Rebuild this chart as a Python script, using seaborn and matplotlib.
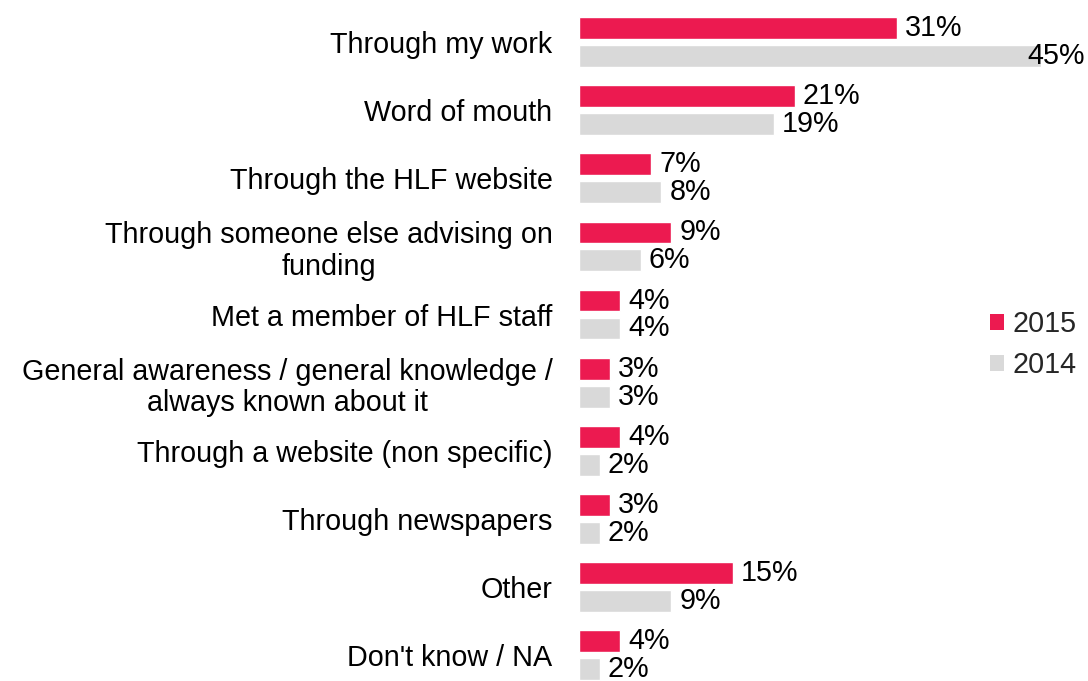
import matplotlib
matplotlib.use("Agg")
import matplotlib.pyplot as plt
import seaborn as sns
import pandas as pd
from matplotlib.patches import Patch

sns.set_style("white")
plt.rcParams["font.family"] = ["Liberation Sans", "DejaVu Sans"]

categories = [
    "Through my work",
    "Word of mouth",
    "Through the HLF website",
    "Through someone else advising on\nfunding",
    "Met a member of HLF staff",
    "General awareness / general knowledge /\nalways known about it",
    "Through a website (non specific)",
    "Through newspapers",
    "Other",
    "Don't know / NA",
]
values_2015 = [31, 21, 7, 9, 4, 3, 4, 3, 15, 4]
values_2014 = [45, 19, 8, 6, 4, 3, 2, 2, 9, 2]
years = ["2015", "2014"]
colors = {"2015": "#EC1A50", "2014": "#D9D9D9"}

df = pd.DataFrame({
    "category": categories * 2,
    "year": ["2015"] * len(categories) + ["2014"] * len(categories),
    "value": values_2015 + values_2014,
})

fig = plt.figure(figsize=(10.88, 6.81), dpi=100)
ax = fig.add_axes([579 / 1088, 0.0, 1 - 579 / 1088, 1 - 8 / 681])

sns.barplot(data=df, y="category", x="value", hue="year", hue_order=years,
            order=categories, palette=colors, orient="h", width=0.82, gap=0.22,
            saturation=1, ax=ax, legend=False)

xmax = 49.6
ax.set_xlim(0, xmax)
ax.set_ylim(9.38, -0.5)

fs = 20.7
for container, year in zip(ax.containers, years):
    for bar in container:
        v = bar.get_width()
        x = min(v + 0.8, xmax - 5.9)
        ax.text(x, bar.get_y() + bar.get_height() / 2, f"{v:.0f}%",
                va="center", ha="left", fontsize=fs, color="#000000")

ax.set_xlabel("")
ax.set_ylabel("")
ax.set_xticks([])
ax.set_yticks(range(len(categories)))
ax.set_yticklabels(categories, fontsize=fs, multialignment="center",
                   linespacing=1.15, color="#000000")
ax.tick_params(axis="y", length=0, pad=19)
for s in ax.spines.values():
    s.set_visible(False)

handles = [Patch(facecolor=colors[y], edgecolor="none", label=y) for y in years]
fig.legend(handles=handles, loc="center left", bbox_to_anchor=(0.886, 0.494),
           frameon=False, fontsize=fs, handlelength=0.5, handleheight=0.5,
           handletextpad=0.3, labelspacing=0.45)

fig.savefig("out.png", dpi=100)
